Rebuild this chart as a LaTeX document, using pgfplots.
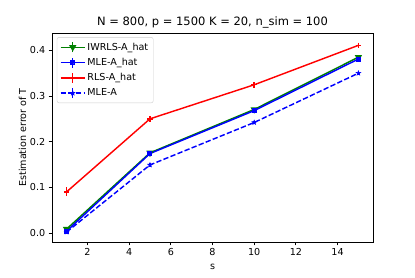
\documentclass[border=0pt]{standalone}
\usepackage{fontspec}
\setmainfont{DejaVu Sans}
\usepackage{pgfplots}
\pgfplotsset{compat=1.18}
\definecolor{mgreen}{HTML}{008000}
\definecolor{mblue}{HTML}{0000FF}
\definecolor{mred}{HTML}{FF0000}
\pgfdeclareplotmark{fstar}{%
  \pgfpathmoveto{\pgfqpointpolar{90}{1.2\pgfplotmarksize}}%
  \pgfpathlineto{\pgfqpointpolar{126}{0.5\pgfplotmarksize}}%
  \pgfpathlineto{\pgfqpointpolar{162}{1.2\pgfplotmarksize}}%
  \pgfpathlineto{\pgfqpointpolar{198}{0.5\pgfplotmarksize}}%
  \pgfpathlineto{\pgfqpointpolar{234}{1.2\pgfplotmarksize}}%
  \pgfpathlineto{\pgfqpointpolar{270}{0.5\pgfplotmarksize}}%
  \pgfpathlineto{\pgfqpointpolar{306}{1.2\pgfplotmarksize}}%
  \pgfpathlineto{\pgfqpointpolar{342}{0.5\pgfplotmarksize}}%
  \pgfpathlineto{\pgfqpointpolar{18}{1.2\pgfplotmarksize}}%
  \pgfpathlineto{\pgfqpointpolar{54}{0.5\pgfplotmarksize}}%
  \pgfpathclose
  \pgfusepathqfillstroke}
\begin{document}
\fontsize{9.6}{11.5}\selectfont
\begin{tikzpicture}[x=1pt,y=1pt]
\useasboundingbox (0,0) rectangle (415,277);
\begin{axis}[
  at={(52pt,35pt)}, anchor=south west,
  scale only axis, width=321pt, height=209pt,
  xmin=0.3, xmax=15.7, ymin=-0.0198, ymax=0.438,
  xtick={2,4,6,8,10,12,14}, ytick={0,0.1,0.2,0.3,0.4},
  yticklabel style={/pgf/number format/.cd, fixed, fixed zerofill, precision=1},
  /pgf/number format/assume math mode=true,
  tick align=outside, tick pos=left,
  major tick length=3.4pt,
  axis line style={line width=0.77pt},
  tick style={line width=0.77pt, black},
  title={N = 800, p = 1500 K = 20, n\_sim = 100},
  title style={font=\fontsize{11.5}{13}\selectfont, yshift=-5pt},
  xlabel={s}, ylabel={Estimation error of T},
  xlabel style={yshift=-1pt},
  ylabel style={yshift=-3pt},
  every axis plot/.append style={line width=1.44pt},
  error bars/y dir=both, error bars/y explicit,
  error bars/error mark=none,
  error bars/error bar style={line width=1.44pt, solid},
  legend cell align=left,
  legend style={at={(0.015,0.98)}, anchor=north west, draw=black!20, rounded corners=2pt,
    fill=white, fill opacity=0.8, text opacity=1, font=\fontsize{9.6}{11}\selectfont,
    row sep=2.6pt, inner xsep=3pt, inner ysep=3.5pt},
  legend image code/.code={
    \draw[#1, line width=1.44pt] (0pt,0pt) -- (24pt,0pt);
    \draw[#1, solid, line width=1.44pt] (12pt,-5pt) -- (12pt,5pt);
    \draw[#1, line width=1.44pt, mark repeat=2, mark phase=2, draw=none] plot coordinates {(0pt,0pt) (12pt,0pt) (24pt,0pt)};
  },
]
\addplot[mgreen, mark=triangle*, mark options={rotate=180, solid}, mark size=2.8pt]
  coordinates {(1,0.0085) +- (0,0.003) (5,0.1755) +- (0,0.004) (10,0.2705) +- (0,0.004) (15,0.385) +- (0,0.005)};
\addlegendentry{IWRLS-A\_hat}
\addplot[mblue, mark=square*, mark options={solid}, mark size=1.8pt]
  coordinates {(1,0.004) +- (0,0.003) (5,0.174) +- (0,0.004) (10,0.268) +- (0,0.004) (15,0.381) +- (0,0.005)};
\addlegendentry{MLE-A\_hat}
\addplot[mred, mark=+, mark options={solid}, mark size=2.8pt]
  coordinates {(1,0.090) +- (0,0.010) (5,0.250) +- (0,0.007) (10,0.3246) +- (0,0.006) (15,0.411) +- (0,0.006)};
\addlegendentry{RLS-A\_hat}
\addplot[mblue, dash pattern=on 5.3pt off 2.3pt, mark=fstar, mark options={solid, line width=0.5pt}, mark size=2pt]
  coordinates {(1,0.002) +- (0,0.003) (5,0.149) +- (0,0.004) (10,0.242) +- (0,0.004) (15,0.350) +- (0,0.004)};
\addlegendentry{MLE-A}
\end{axis}
\end{tikzpicture}
\end{document}
